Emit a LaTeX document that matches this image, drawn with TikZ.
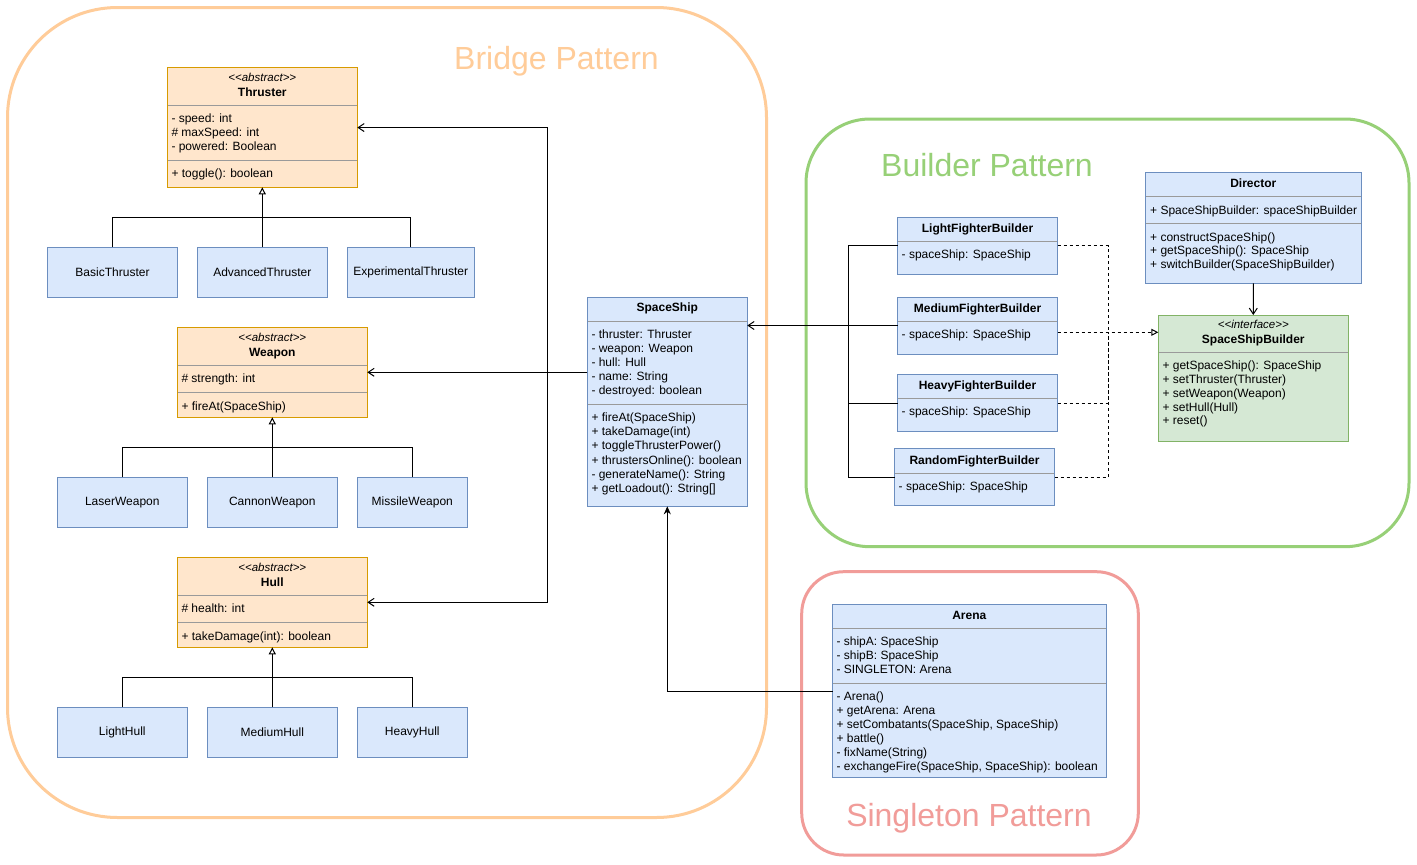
\documentclass[tikz,border=0pt]{standalone}
\usepackage{fontspec}
\setmainfont{Liberation Sans}
\usetikzlibrary{arrows.meta}

\definecolor{classfill}{HTML}{DAE8FC}
\definecolor{classline}{HTML}{6C8EBF}
\definecolor{absfill}{HTML}{FFE6CC}
\definecolor{absline}{HTML}{D79B00}
\definecolor{ifacefill}{HTML}{D5E8D4}
\definecolor{ifaceline}{HTML}{82B366}
\definecolor{divcol}{HTML}{9A9A9A}
\definecolor{bridgecol}{HTML}{FFCC99}
\definecolor{buildercol}{HTML}{97D077}
\definecolor{singlecol}{HTML}{F19C99}

\tikzset{
    >=latex,
    classbox/.style={draw, line width=1pt, inner sep=0pt, outer sep=0pt, anchor=north west, font=\fontsize{12}{14}\selectfont},
    bluebox/.style={classbox, fill=classfill, draw=classline},
    abstractbox/.style={classbox, fill=absfill, draw=absline},
    ifacebox/.style={classbox, fill=ifacefill, draw=ifaceline},
    member/.style={anchor=base west, inner sep=0pt, font=\fontsize{12}{14}\selectfont},
    classname/.style={anchor=base, inner sep=0pt, font=\fontsize{12}{14}\selectfont\bfseries},
    stereo/.style={anchor=base, inner sep=0pt, font=\fontsize{11.5}{14}\selectfont\itshape},
    divider/.style={draw=divcol, line width=1pt},
    link/.style={line width=1pt},
    assoc/.style={link, -{Straight Barb[length=6pt,width=8pt]}},
    inherit/.style={link, -{Triangle[open,length=7pt,width=7pt,fill=white]}},
    dashedlink/.style={link, dash pattern=on 3pt off 3pt},
    realize/.style={dashedlink, -{Triangle[open,length=7pt,width=7pt,fill=white]}},
    navigate/.style={link, -{Stealth[length=8pt,width=7pt]}},
    patternframe/.style={line width=3pt},
    patternname/.style={anchor=base, inner sep=0pt, font=\fontsize{32}{38}\selectfont}
}

\begin{document}
\begin{tikzpicture}[x=1pt, y=-1pt]

    \path[use as bounding box, fill=white] (0,0) rectangle (1417,865);

    % pattern frames
    \draw[patternframe, draw=bridgecol, rounded corners=110pt] (7.5,7.5) rectangle (766.5,817.5);
    \draw[patternframe, draw=buildercol, rounded corners=64pt] (806,119) rectangle (1409,546.7);
    \draw[patternframe, draw=singlecol, rounded corners=42pt] (801.7,571.7) rectangle (1138.3,855);

    \node[patternname, text=bridgecol] (bridgetitle) at (556.5,69.5) {Bridge Pattern};
    \node[patternname, text=buildercol] (buildertitle) at (987,176.7) {Builder Pattern};
    \node[patternname, text=singlecol] (singletontitle) at (969,826) {Singleton Pattern};

    % Thruster
    \node[abstractbox, minimum width=190pt, minimum height=119.5pt] (thruster) at (167.3,67.8) {};
    \node[stereo] (thruster-st) at (262.3,81.3) {<{}<abstract>{}>};
    \node[classname] (thruster-nm) at (262.3,96) {Thruster};
    \draw[divider] (167.8,105.3) -- (356.8,105.3);
    \foreach \m [count=\i from 0] in {- speed: int, \# maxSpeed: int, - powered: Boolean}
        \node[member] (thruster-a\i) at (171.3,122.7+14*\i) {\m};
    \draw[divider] (167.8,160) -- (356.8,160);
    \node[member] (thruster-o0) at (171.3,177.7) {+ toggle(): boolean};

    \node[bluebox, minimum width=130pt, minimum height=50pt] (basic) at (47.5,247.3) {BasicThruster};
    \node[bluebox, minimum width=130pt, minimum height=50pt] (advanced) at (197.3,247.3) {AdvancedThruster};
    \node[bluebox, minimum width=127pt, minimum height=50pt] (experimental) at (347.3,247.3) {ExperimentalThruster};

    \coordinate (thrusterjoin) at (262.3,217.3);
    \foreach \c in {basic,advanced,experimental}
        \draw[link] (\c.north) |- (thrusterjoin);
    \draw[inherit] (thrusterjoin) -- (thruster.south);

    % Weapon
    \node[abstractbox, minimum width=190pt, minimum height=90pt] (weapon) at (177.3,327.3) {};
    \node[stereo] (weapon-st) at (272.3,341.3) {<{}<abstract>{}>};
    \node[classname] (weapon-nm) at (272.3,356) {Weapon};
    \draw[divider] (177.8,365.3) -- (366.8,365.3);
    \node[member] (weapon-a0) at (181.3,382.7) {\# strength: int};
    \draw[divider] (177.8,392) -- (366.8,392);
    \node[member] (weapon-o0) at (181.3,410) {+ fireAt(SpaceShip)};

    \node[bluebox, minimum width=130pt, minimum height=50pt] (laser) at (57.3,477.3) {LaserWeapon};
    \node[bluebox, minimum width=130pt, minimum height=50pt] (cannon) at (207.3,477.3) {CannonWeapon};
    \node[bluebox, minimum width=110pt, minimum height=50pt] (missile) at (357.3,477.3) {MissileWeapon};

    \coordinate (weaponjoin) at (272.3,447.3);
    \foreach \c in {laser,cannon,missile}
        \draw[link] (\c.north) |- (weaponjoin);
    \draw[inherit] (weaponjoin) -- (weapon.south);

    % Hull
    \node[abstractbox, minimum width=190pt, minimum height=90pt] (hull) at (177.3,557.3) {};
    \node[stereo] (hull-st) at (272.3,571.3) {<{}<abstract>{}>};
    \node[classname] (hull-nm) at (272.3,586) {Hull};
    \draw[divider] (177.8,595.3) -- (366.8,595.3);
    \node[member] (hull-a0) at (181.3,612.7) {\# health: int};
    \draw[divider] (177.8,622) -- (366.8,622);
    \node[member] (hull-o0) at (181.3,640) {+ takeDamage(int): boolean};

    \node[bluebox, minimum width=130pt, minimum height=50pt] (lighthull) at (57.3,707.3) {LightHull};
    \node[bluebox, minimum width=130pt, minimum height=50pt] (mediumhull) at (207.3,707.3) {MediumHull};
    \node[bluebox, minimum width=110pt, minimum height=50pt] (heavyhull) at (357.3,707.3) {HeavyHull};

    \coordinate (hulljoin) at (272.3,677.3);
    \foreach \c in {lighthull,mediumhull,heavyhull}
        \draw[link] (\c.north) |- (hulljoin);
    \draw[inherit] (hulljoin) -- (hull.south);

    % SpaceShip
    \node[bluebox, minimum width=160pt, minimum height=209pt] (ship) at (587.3,297.3) {};
    \node[classname] (ship-nm) at (667.3,311.6) {SpaceShip};
    \draw[divider] (587.8,321.7) -- (746.8,321.7);
    \foreach \m [count=\i from 0] in {- thruster: Thruster, - weapon: Weapon, - hull: Hull, - name: String, - destroyed: boolean}
        \node[member] (ship-a\i) at (591.3,338.3+14.1*\i) {\m};
    \draw[divider] (587.8,404.3) -- (746.8,404.3);
    \foreach \m [count=\i from 0] in {+ fireAt(SpaceShip), + takeDamage(int), + toggleThrusterPower(), + thrustersOnline(): boolean, - generateName(): String, + getLoadout(): String[]}
        \node[member] (ship-o\i) at (591.3,421.7+14.1*\i) {\m};

    \coordinate (shipsplit) at (547.3,372.3);
    \draw[assoc] (ship.west |- weapon.east) -- (weapon.east);
    \draw[assoc] (shipsplit) |- (thruster.east);
    \draw[assoc] (shipsplit) |- (hull.east);

    % fighter builders
    \node[bluebox, minimum width=160pt, minimum height=57pt] (lfb) at (897.5,217) {};
    \node[classname] (lfb-nm) at (977.5,232) {LightFighterBuilder};
    \draw[divider] (898,241.3) -- (1057,241.3);
    \node[member] (lfb-a0) at (901.5,258.7) {- spaceShip: SpaceShip};

    \node[bluebox, minimum width=160pt, minimum height=57pt] (mfb) at (897.5,297) {};
    \node[classname] (mfb-nm) at (977.5,312) {MediumFighterBuilder};
    \draw[divider] (898,321.7) -- (1057,321.7);
    \node[member] (mfb-a0) at (901.5,338.7) {- spaceShip: SpaceShip};

    \node[bluebox, minimum width=160pt, minimum height=57pt] (hfb) at (897.5,374.7) {};
    \node[classname] (hfb-nm) at (977.5,389) {HeavyFighterBuilder};
    \draw[divider] (898,398.7) -- (1057,398.7);
    \node[member] (hfb-a0) at (901.5,415.7) {- spaceShip: SpaceShip};

    \node[bluebox, minimum width=160pt, minimum height=57pt] (rfb) at (894.5,448.7) {};
    \node[classname] (rfb-nm) at (974.5,464) {RandomFighterBuilder};
    \draw[divider] (895,473.3) -- (1054,473.3);
    \node[member] (rfb-a0) at (898.5,490.7) {- spaceShip: SpaceShip};

    \coordinate (builderjoin) at (848.3,325.5);
    \foreach \b in {lfb,hfb,rfb}
        \draw[link] (\b.west) -| (builderjoin);
    \draw[assoc] (mfb.west) -- (ship.east |- mfb.west);

    % Director and SpaceShipBuilder
    \node[bluebox, minimum width=215.3pt, minimum height=111pt] (dir) at (1145.7,172.3) {};
    \node[classname] (dir-nm) at (1253.3,187) {Director};
    \draw[divider] (1146.2,196) -- (1360.5,196);
    \node[member] (dir-a0) at (1150,214) {+ SpaceShipBuilder: spaceShipBuilder};
    \draw[divider] (1146.2,223.3) -- (1360.5,223.3);
    \foreach \m [count=\i from 0] in {+ constructSpaceShip(), + getSpaceShip(): SpaceShip, + switchBuilder(SpaceShipBuilder)}
        \node[member] (dir-o\i) at (1150,241.3+13.4*\i) {\m};

    \node[ifacebox, minimum width=190pt, minimum height=126pt] (ssb) at (1158.3,315) {};
    \node[stereo] (ssb-st) at (1253.3,328) {<{}<interface>{}>};
    \node[classname] (ssb-nm) at (1253.3,343) {SpaceShipBuilder};
    \draw[divider] (1158.8,352.3) -- (1347.8,352.3);
    \foreach \m [count=\i from 0] in {+ getSpaceShip(): SpaceShip, + setThruster(Thruster), + setWeapon(Weapon), + setHull(Hull), + reset()}
        \node[member] (ssb-o\i) at (1162.3,369.7+13.8*\i) {\m};

    \draw[assoc] (dir.south) -- (ssb.north);

    \coordinate (realizejoin) at (1108,332.3);
    \foreach \b in {lfb,hfb,rfb}
        \draw[dashedlink] (\b.east) -| (realizejoin);
    \draw[realize] (mfb.east |- realizejoin) -- (ssb.west |- realizejoin);

    % Arena
    \node[bluebox, minimum width=273.3pt, minimum height=173.4pt] (arena) at (832.7,604.3) {};
    \node[classname] (arena-nm) at (969.3,619.3) {Arena};
    \draw[divider] (833.2,628.3) -- (1105.5,628.3);
    \foreach \m [count=\i from 0] in {- shipA: SpaceShip, - shipB: SpaceShip, - SINGLETON: Arena}
        \node[member] (arena-a\i) at (836.3,645.7+13.9*\i) {\m};
    \draw[divider] (833.2,683.3) -- (1105.5,683.3);
    \foreach \m [count=\i from 0] in {- Arena(), + getArena: Arena, {+ setCombatants(SpaceShip, SpaceShip)}, + battle(), - fixName(String), {- exchangeFire(SpaceShip, SpaceShip): boolean}}
        \node[member] (arena-o\i) at (836.3,700+14.1*\i) {\m};

    \draw[navigate] (arena.west) -| (ship.south);

\end{tikzpicture}
\end{document}
